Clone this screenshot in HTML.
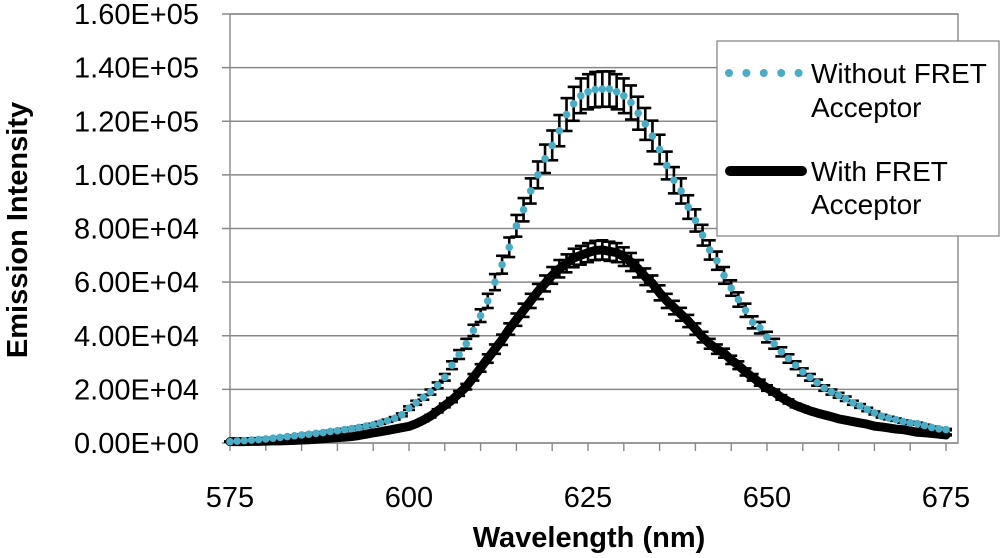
<!DOCTYPE html>
<html><head><meta charset="utf-8"><style>
body{margin:0;background:#fff;}
svg{display:block;font-family:"Liberation Sans",Arial,sans-serif;}
</style></head><body>
<svg id="chart" width="1000" height="558" viewBox="0 0 1000 558">
<g id="grid"></g>
<g id="axes"></g>
<g id="series"></g>
<text x="589" y="547" text-anchor="middle" font-size="29" font-weight="bold">Wavelength (nm)</text>
<text transform="translate(27,230) rotate(-90)" text-anchor="middle" font-size="29" font-weight="bold">Emission Intensity</text>
<g>
<rect x="717" y="41" width="282" height="195" fill="#fff" stroke="#888" stroke-width="1.3"/>
<g>
<line x1="729" y1="73" x2="799" y2="73" stroke="#4bacc6" stroke-width="8" stroke-linecap="round" stroke-dasharray="0 17.4"/>
<text x="811" y="83" font-size="28">Without FRET</text>
<text x="811" y="117" font-size="28">Acceptor</text>
</g>
<g>
<line x1="730" y1="171" x2="802" y2="171" stroke="#000" stroke-width="10" stroke-linecap="round"/>
<text x="811" y="181" font-size="28">With FRET</text>
<text x="811" y="214" font-size="28">Acceptor</text>
</g>
</g>
</svg>
<script>
const wavelengths = [];
for (let w = 575; w <= 675; w++) wavelengths.push(w);
const withoutFret = [0.05,0.07,0.09,0.11,0.13,0.15,0.18,0.21,0.24,0.27,0.3,0.33,0.36,0.39,0.43,0.46,0.5,0.54,0.58,0.63,0.68,0.75,0.83,0.92,1.05,1.3,1.5,1.7,1.9,2.15,2.45,2.9,3.3,3.7,4.2,4.75,5.3,6.0,6.65,7.3,8.1,8.7,9.4,10.0,10.6,11.1,11.65,12.25,12.65,12.95,13.1,13.18,13.2,13.2,13.1,12.95,12.7,12.3,11.9,11.45,10.95,10.35,9.8,9.4,8.8,8.3,7.75,7.2,6.8,6.25,5.78,5.35,4.95,4.5,4.3,3.95,3.7,3.4,3.15,2.9,2.65,2.45,2.25,2.05,1.9,1.78,1.65,1.5,1.38,1.25,1.12,1.0,0.93,0.87,0.8,0.75,0.72,0.65,0.58,0.53,0.5];
const withFret = [0.05,0.05,0.05,0.06,0.06,0.07,0.08,0.08,0.09,0.10,0.11,0.12,0.14,0.16,0.18,0.2,0.22,0.24,0.28,0.33,0.38,0.42,0.47,0.52,0.57,0.62,0.72,0.85,1.0,1.2,1.4,1.6,1.85,2.1,2.45,2.8,3.15,3.5,3.85,4.25,4.6,4.95,5.3,5.65,5.95,6.25,6.5,6.7,6.9,7.0,7.1,7.18,7.2,7.15,7.1,6.95,6.75,6.5,6.2,5.95,5.6,5.3,5.05,4.8,4.55,4.25,3.95,3.7,3.5,3.35,3.1,2.9,2.65,2.45,2.25,2.05,1.9,1.7,1.55,1.4,1.3,1.2,1.12,1.05,0.98,0.9,0.85,0.8,0.75,0.7,0.63,0.6,0.56,0.52,0.5,0.45,0.4,0.38,0.36,0.33,0.3];
const errFraction = 0.05;
const yTickValues = [0,2,4,6,8,10,12,14,16];
const yTickLabels = ["0.00E+00","2.00E+04","4.00E+04","6.00E+04","8.00E+04","1.00E+05","1.20E+05","1.40E+05","1.60E+05"];
const xTickValues = [575,600,625,650,675];

const X0=230,X1=958,Y0=443,Y1=14;
const xs = w => X0 + (w-575)*7.16;
const ys = v => Y0 - v/16*(Y0-Y1);
const NS="http://www.w3.org/2000/svg";
function mk(tag,attrs,parent){const e=document.createElementNS(NS,tag);for(const k in attrs)e.setAttribute(k,attrs[k]);parent.appendChild(e);return e;}
const grid=document.getElementById('grid'),axes=document.getElementById('axes'),series=document.getElementById('series');

yTickValues.forEach((v,i)=>{
  const y=ys(v);
  const g=mk('line',{x1:X0-8,x2:X1,y1:y,y2:y,stroke:'#888','stroke-width':1.4},grid);
  
  
  const t=mk('text',{x:199,y:y+10,'text-anchor':'end','font-size':29},axes);
  t.textContent=yTickLabels[i];
  
  
});
const border=mk('rect',{x:X0,y:Y1,width:X1-X0,height:Y0-Y1,fill:'none',stroke:'#888','stroke-width':1.4},axes);


for(let w=575;w<=675;w+=5){
  const tk=mk('line',{x1:xs(w),x2:xs(w),y1:Y0,y2:Y0+8,stroke:'#888','stroke-width':1.4},axes);
  
  
}
xTickValues.forEach(v=>{
  const t=mk('text',{x:xs(v),y:507,'text-anchor':'middle','font-size':29},axes);
  t.textContent=v;
  
  
});

function errorBars(vals,name){
  const g=mk('g',{stroke:'#000','stroke-width':2.6},series);
  
  
  vals.forEach((v,i)=>{
    const x=xs(wavelengths[i]),e=v*errFraction;
    const yt=ys(v+e),yb=ys(v-e);
    mk('line',{x1:x,x2:x,y1:yt,y2:yb},g);
    mk('line',{x1:x-6,x2:x+6,y1:yt,y2:yt},g);
    mk('line',{x1:x-6,x2:x+6,y1:yb,y2:yb},g);
  });
}
errorBars(withoutFret,'error-bars-without-fret');
errorBars(withFret,'error-bars-with-fret');

const line=mk('polyline',{points:withFret.map((v,i)=>xs(wavelengths[i])+','+ys(v)).join(' '),fill:'none',stroke:'#000','stroke-width':9,'stroke-linejoin':'round','stroke-linecap':'round'},series);



const dots=mk('g',{fill:'#4bacc6'},series);


withoutFret.forEach((v,i)=>{
  const c=mk('circle',{cx:xs(wavelengths[i]),cy:ys(v),r:3.8},dots);
  
  
});
</script>
</body></html>
